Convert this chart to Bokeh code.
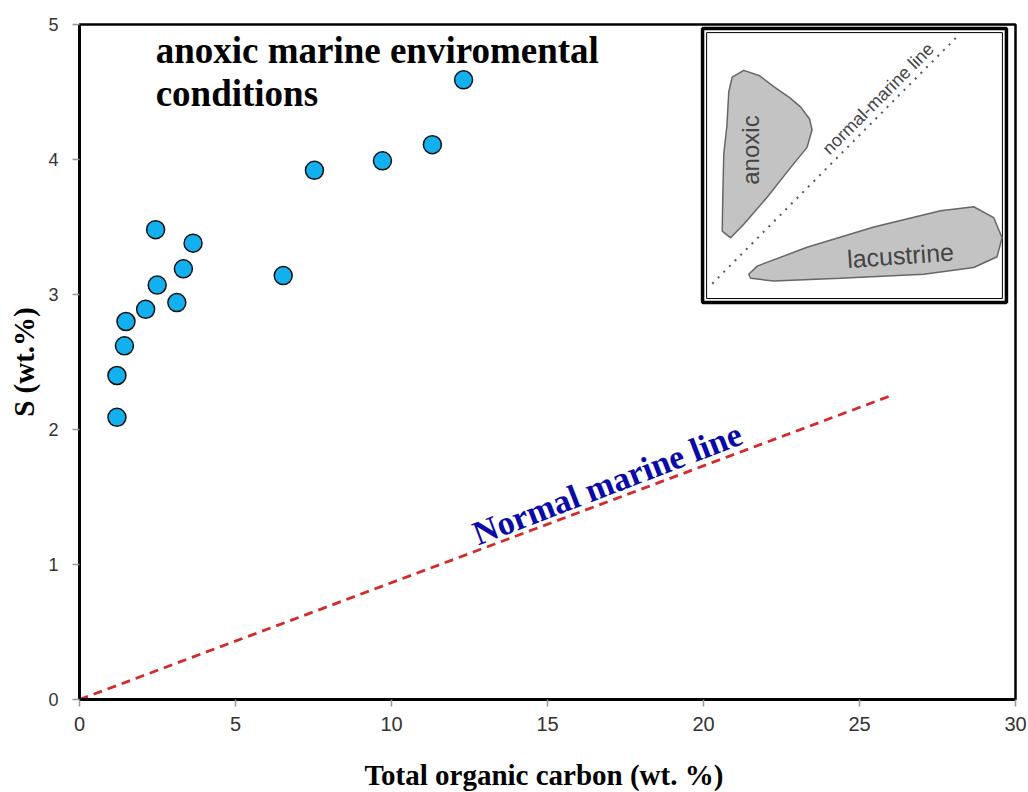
from bokeh.plotting import figure
from bokeh.models import Range1d, FixedTicker
from bokeh.embed import file_html
from bokeh.resources import INLINE
from bokeh.core.properties import value

# ---- data ----
toc = [1.20, 1.20, 1.44, 1.49, 2.12, 2.44, 2.49, 3.12, 3.33, 3.64, 6.53, 7.53, 9.71, 11.31, 12.31]
sulfur = [2.09, 2.40, 2.62, 2.80, 2.89, 3.48, 3.07, 2.94, 3.19, 3.38, 3.14, 3.92, 3.99, 4.11, 4.59]

normal_line_x = [0, 26]
normal_line_y = [0, 2.25]

x_ticks = [0, 5, 10, 15, 20, 25, 30]
y_ticks = [0, 1, 2, 3, 4, 5]

title_lines = ["anoxic marine enviromental", "conditions"]
title_x = [2.44, 2.44]
title_y = [4.81, 4.49]

# inset schematic (drawn in the main plot's data space)
inset_box_x = [19.97, 29.71]
inset_box_y = [2.94, 4.97]
inset_inner_x = [20.10, 29.58]
inset_inner_y = [2.97, 4.94]
anoxic_x = [20.92, 21.29, 21.80, 22.25, 22.75, 23.11, 23.40, 23.48, 23.32, 22.79, 22.04, 21.29, 20.87, 20.60, 20.62, 20.65, 20.75, 20.81]
anoxic_y = [4.61, 4.66, 4.62, 4.54, 4.46, 4.39, 4.30, 4.22, 4.09, 3.94, 3.72, 3.52, 3.42, 3.47, 3.75, 4.04, 4.25, 4.50]
lac_x = [21.45, 21.72, 23.32, 25.46, 27.60, 28.66, 29.30, 29.57, 29.41, 28.66, 27.06, 24.39, 22.25, 21.51]
lac_y = [3.15, 3.21, 3.35, 3.50, 3.62, 3.65, 3.57, 3.42, 3.28, 3.20, 3.15, 3.12, 3.10, 3.12]
inset_line_x = [20.28, 28.13]
inset_line_y = [3.08, 4.91]

p = figure(frame_width=936, frame_height=675,
           min_border_left=79, min_border_right=13, min_border_top=24, min_border_bottom=93,
           x_range=Range1d(0, 30), y_range=Range1d(0, 5),
           output_backend="svg", toolbar_location=None,
           background_fill_color="white", border_fill_color="white")

p.grid.visible = False
p.outline_line_color = "black"
p.outline_line_width = 2.5

for ax in (p.xaxis[0], p.yaxis[0]):
    ax.axis_line_color = "black"
    ax.axis_line_width = 3
    ax.major_tick_line_color = "#999999"
    ax.major_tick_line_width = 1.5
    ax.major_tick_out = 7
    ax.major_tick_in = 0
    ax.minor_tick_line_color = None
    ax.major_label_text_font = "Liberation Sans"
    ax.major_label_text_color = "#333333"
    ax.axis_label_text_font = "Liberation Serif"
    ax.axis_label_text_font_style = "bold"
    ax.axis_label_text_font_size = "29px"
    ax.axis_label_text_color = "black"

p.xaxis.major_label_text_font_size = "20px"
p.yaxis.major_label_text_font_size = "18px"
p.xaxis.ticker = FixedTicker(ticks=x_ticks)
p.yaxis.ticker = FixedTicker(ticks=y_ticks)
p.xaxis.major_label_standoff = 10
p.yaxis.major_label_standoff = 14
p.xaxis.axis_label = "Total organic carbon  (wt. %)"
p.yaxis.axis_label = "S (wt.%)"
p.xaxis.axis_label_standoff = 25
p.yaxis.axis_label_standoff = 5

# normal marine line
p.line(normal_line_x, normal_line_y, line_color="#d42a2a", line_width=2.8, line_dash="9 6")
p.text(x=[12.65], y=[1.22], text=["Normal marine line"], angle=21, angle_units="deg",
       text_font=value("Liberation Serif"), text_font_style="bold", text_font_size="34px",
       text_color="#0a0aa8", text_align="left", text_baseline="alphabetic")

# samples
p.scatter(toc, sulfur, size=18, fill_color="#13b0f0", line_color="#111111", line_width=1.5)

# title text
p.text(x=title_x, y=title_y, text=title_lines,
       text_font=value("Liberation Serif"), text_font_style="bold", text_font_size="37px",
       text_color="black", text_align="left", text_baseline="alphabetic")

# inset
p.quad(left=[inset_box_x[0]], right=[inset_box_x[1]], bottom=[inset_box_y[0]], top=[inset_box_y[1]],
       fill_color="white", line_color="black", line_width=3.5)
p.quad(left=[inset_inner_x[0]], right=[inset_inner_x[1]], bottom=[inset_inner_y[0]], top=[inset_inner_y[1]],
       fill_color=None, line_color="black", line_width=1)
p.line(inset_line_x, inset_line_y, line_color="#555555", line_width=2, line_dash="2 6")
p.patch(anoxic_x, anoxic_y, fill_color="#c3c3c3", line_color="#666666", line_width=1.5)
p.patch(lac_x, lac_y, fill_color="#c3c3c3", line_color="#666666", line_width=1.5)
p.text(x=[21.51], y=[4.07], text=["anoxic"], angle=90, angle_units="deg",
       text_font=value("Liberation Sans"), text_font_size="24px", text_color="#444444",
       text_align="center", text_baseline="middle")
p.text(x=[26.31], y=[3.29], text=["lacustrine"], angle=4, angle_units="deg",
       text_font=value("Liberation Sans"), text_font_size="25px", text_color="#444444",
       text_align="center", text_baseline="middle")
p.text(x=[25.60], y=[4.45], text=["normal-marine line"], angle=45, angle_units="deg",
       text_font=value("Liberation Sans"), text_font_size="18px", text_color="#444444",
       text_align="center", text_baseline="middle")

open("out.html", "w").write(file_html(p, INLINE))
